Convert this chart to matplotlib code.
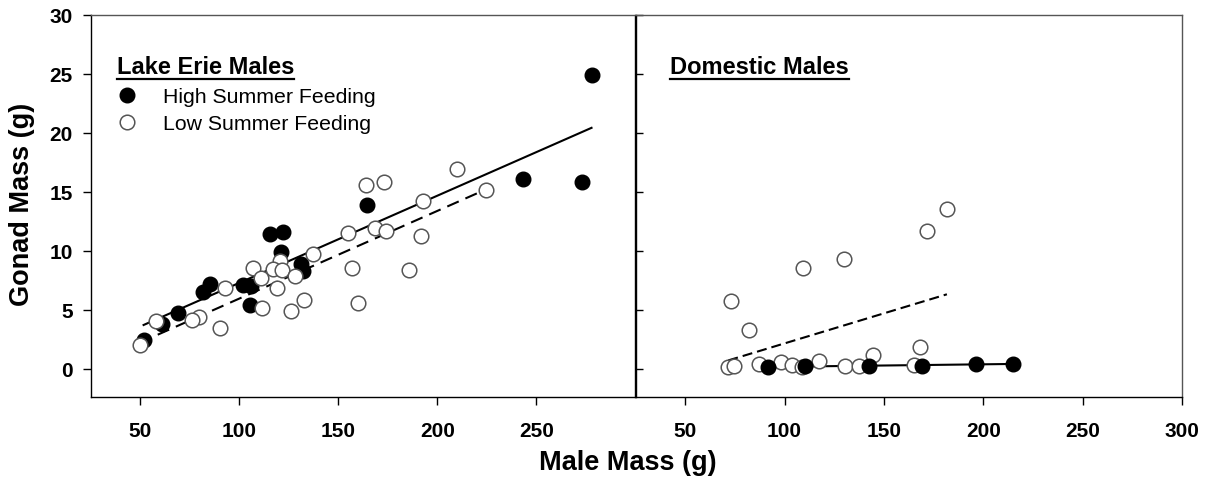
import matplotlib
matplotlib.use("Agg")
import matplotlib.pyplot as plt
from matplotlib.lines import Line2D

plt.rcParams['font.family'] = ['Liberation Sans', 'DejaVu Sans']

# ---------------- data ----------------
erie_high_x = [164.6, 115.3, 122.0, 121.2, 131.2, 132.0, 105.3, 102.0, 106.1,
               85.2, 81.8, 69.3, 60.9, 51.7, 277.8, 243.2, 272.8]
erie_high_y = [13.9, 11.4, 11.55, 9.86, 8.9, 8.3, 5.4, 7.1, 7.0,
               7.2, 6.5, 4.7, 3.75, 2.4, 24.9, 16.06, 15.83]

erie_low_x = [120.4, 106.9, 117.0, 121.7, 111.2, 127.9, 137.1, 154.7, 168.6,
              174.0, 156.7, 160.0, 132.9, 126.2, 111.5, 119.2, 93.0, 79.6,
              76.0, 90.2, 58.0, 49.7, 164.0, 173.0, 210.0, 192.9, 224.7,
              191.5, 185.7]
erie_low_y = [9.15, 8.5, 8.45, 8.4, 7.7, 7.84, 9.7, 11.47, 11.9,
              11.7, 8.54, 5.6, 5.8, 4.9, 5.15, 6.8, 6.85, 4.4,
              4.1, 3.47, 4.0, 1.97, 15.6, 15.8, 16.9, 14.2, 15.1,
              11.2, 8.37]

dom_high_x = [91.8, 110.5, 142.7, 169.2, 196.2, 215.2]
dom_high_y = [0.14, 0.2, 0.22, 0.2, 0.42, 0.42]

dom_low_x = [73.0, 82.2, 109.3, 130.0, 171.8, 181.7, 71.7, 74.7, 87.2, 98.0,
             103.8, 108.8, 117.2, 130.5, 137.5, 144.3, 165.2, 168.3]
dom_low_y = [5.69, 3.3, 8.54, 9.27, 11.7, 13.5, 0.14, 0.2, 0.42, 0.6,
             0.28, 0.14, 0.62, 0.22, 0.22, 1.2, 0.28, 1.8]

# regression line end points
erie_high_fit_x = [51.7, 277.8]
erie_high_fit_y = [3.7, 20.4]
erie_low_fit_x = [49.7, 224.7]
erie_low_fit_y = [2.2, 15.2]
dom_high_fit_x = [91.8, 215.2]
dom_high_fit_y = [0.15, 0.4]
dom_low_fit_x = [71.7, 181.7]
dom_low_fit_y = [0.7, 6.3]

y_ticks = [0, 5, 10, 15, 20, 25, 30]
x_ticks_left = [50, 100, 150, 200, 250]
x_ticks_right = [50, 100, 150, 200, 250, 300]

# ---------------- figure ----------------
W, H = 1208, 481
fig = plt.figure(figsize=(W / 100, H / 100), dpi=100)

left_px, mid_px, right_px = 90.7, 635.5, 1182.0
top_px, bot_px = 15.5, 398.0
b = 1 - bot_px / H
h = (bot_px - top_px) / H
ax1 = fig.add_axes([left_px / W, b, (mid_px - left_px) / W, h])
ax2 = fig.add_axes([mid_px / W, b, (right_px - mid_px) / W, h])

ms = 10.5
filled_kw = dict(marker='o', ms=ms, mfc='black', mec='black', mew=1.0, ls='none')
open_kw = dict(marker='o', ms=ms, mfc='white', mec='#555555', mew=1.1, ls='none')

# left panel
ax1.plot(erie_high_fit_x, erie_high_fit_y, color='black', lw=1.5, zorder=2)
ax1.plot(erie_low_fit_x, erie_low_fit_y, color='black', lw=1.5,
         dashes=(6.0, 3.5), zorder=2)
h1, = ax1.plot(erie_high_x, erie_high_y, zorder=3, label='High Summer Feeding', **filled_kw)
h2, = ax1.plot(erie_low_x, erie_low_y, zorder=4, label='Low Summer Feeding', **open_kw)

# right panel
ax2.plot(dom_high_fit_x, dom_high_fit_y, color='black', lw=1.5, zorder=2)
ax2.plot(dom_low_fit_x, dom_low_fit_y, color='black', lw=1.5,
         dashes=(4.8, 2.4), zorder=2)
ax2.plot(dom_low_x, dom_low_y, zorder=3, **open_kw)
ax2.plot(dom_high_x, dom_high_y, zorder=4, **filled_kw)

for ax in (ax1, ax2):
    ax.set_xlim(25, 300)
    ax.set_ylim(-2.4, 30)
    ax.set_yticks(y_ticks)
    for s in ('top', 'right'):
        ax.spines[s].set_color('#555555')
    for s in ('left', 'bottom'):
        ax.spines[s].set_color('black')
    for s in ax.spines.values():
        s.set_linewidth(1.0)

ax1.spines['right'].set_color('black')
ax1.set_xticks(x_ticks_left)
ax2.set_xticks(x_ticks_right)

ax1.tick_params(axis='y', direction='out', length=6, width=1, pad=7,
                labelsize=15)
ax1.tick_params(axis='x', direction='out', length=6, width=1, pad=11,
                labelsize=15)
ax2.tick_params(axis='y', direction='in', length=5, width=1, labelleft=False)
ax2.tick_params(axis='x', direction='out', length=6, width=1, pad=11,
                labelsize=15)
for ax in (ax1, ax2):
    for lab in ax.get_xticklabels() + ax.get_yticklabels():
        lab.set_fontweight('bold')

ax1.set_ylabel('Gonad Mass (g)', fontsize=19.5, fontweight='bold')
ax1.yaxis.set_label_coords((35 - left_px) / (mid_px - left_px), 0.505)
fig.text(628 / W, 1 - 463 / H, 'Male Mass (g)',
         ha='center', va='center', fontsize=19.5, fontweight='bold')

# panel titles
t1 = ax1.text(0.048, 0.863, 'Lake Erie Males', transform=ax1.transAxes,
              fontsize=17, fontweight='bold', ha='left', va='center')
t2 = ax2.text(0.063, 0.863, 'Domestic Males', transform=ax2.transAxes,
              fontsize=17, fontweight='bold', ha='left', va='center')

leg = ax1.legend(handles=[h1, h2], loc='upper left',
                 bbox_to_anchor=(0.0485, 0.81), frameon=False,
                 fontsize=15.3, handlelength=0.95, handletextpad=1.2,
                 labelspacing=0.38, borderpad=0, borderaxespad=0)

# underline titles
fig.canvas.draw()
r = fig.canvas.get_renderer()
for t in (t1, t2):
    bb = t.get_window_extent(renderer=r)
    yy = bb.y0 - 1.0
    fig.add_artist(Line2D([bb.x0 / W, bb.x1 / W], [yy / H, yy / H],
                          transform=fig.transFigure, color='black', lw=1.6))

fig.savefig('out.png', dpi=100)
